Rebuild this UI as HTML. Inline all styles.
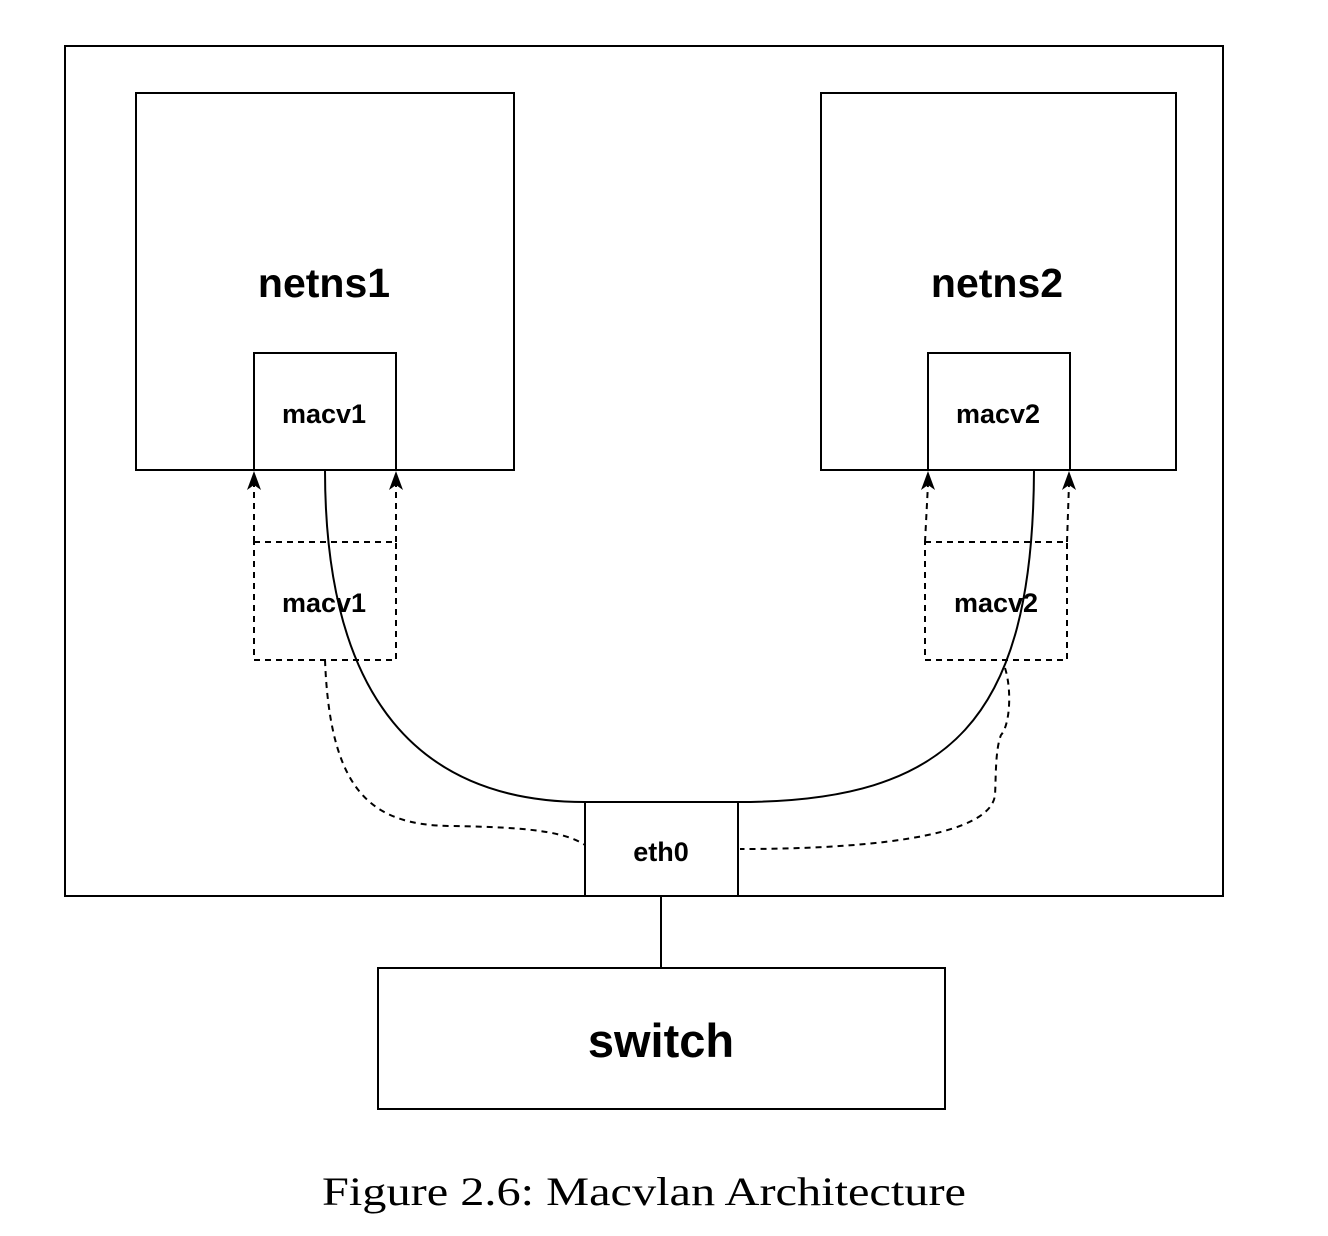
<!DOCTYPE html>
<html><head><style>body{margin:0;background:#fff}</style></head><body>
<svg width="1328" height="1236" xmlns="http://www.w3.org/2000/svg" style="display:block">
<g fill="none" stroke="#000" stroke-width="2">
<rect x="65" y="46" width="1158" height="850" fill="#fff"/>
<rect x="136" y="93" width="378" height="377"/>
<rect x="821" y="93" width="355" height="377"/>
<rect x="254" y="353" width="142" height="117"/>
<rect x="928" y="353" width="142" height="117"/>
<rect x="585" y="802" width="153" height="94"/>
<rect x="378" y="968" width="567" height="141"/>
<line x1="661" y1="896" x2="661" y2="968"/>
<path d="M325,470 C325,700 420,802 585,802"/>
<path d="M738,802 C950,802 1033,720 1034,470"/>
<g stroke-dasharray="6,5">
<rect x="254" y="542" width="142" height="118"/>
<rect x="925" y="542" width="142" height="118"/>
<line x1="254" y1="542" x2="254" y2="484"/>
<line x1="396" y1="542" x2="396" y2="484"/>
<line x1="925" y1="542" x2="928" y2="484"/>
<line x1="1067" y1="542" x2="1069" y2="484"/>
<path d="M325,660 C330,790 370,825 450,826 C530,827 565,832 585,845"/>
<path d="M1005,668 C1012,690 1010,725 1001,735 C995,750 996,780 995,795 C990,840 850,849 740,849"/>
</g></g>
<g fill="#000">
<polygon points="254,471 261,490 254,485 247,490"/>
<polygon points="396,471 403,490 396,485 389,490"/>
<polygon points="928,471 935,490 928,485 921,490"/>
<polygon points="1069,471 1076,490 1069,485 1062,490"/>
</g>
<g font-family="Liberation Sans, sans-serif" font-weight="bold" text-anchor="middle" fill="#000">
<text x="324" y="297" font-size="41">netns1</text>
<text x="997" y="297" font-size="41">netns2</text>
<text x="324" y="423" font-size="27">macv1</text>
<text x="998" y="423" font-size="27">macv2</text>
<text x="324" y="612" font-size="27">macv1</text>
<text x="996" y="612" font-size="27">macv2</text>
<text x="661" y="861" font-size="27">eth0</text>
<text x="661" y="1057" font-size="47">switch</text>
</g>
<text x="322" y="1205" font-family="Liberation Serif, serif" font-size="40" textLength="644" lengthAdjust="spacingAndGlyphs">Figure 2.6: Macvlan Architecture</text>
</svg>
</body></html>
